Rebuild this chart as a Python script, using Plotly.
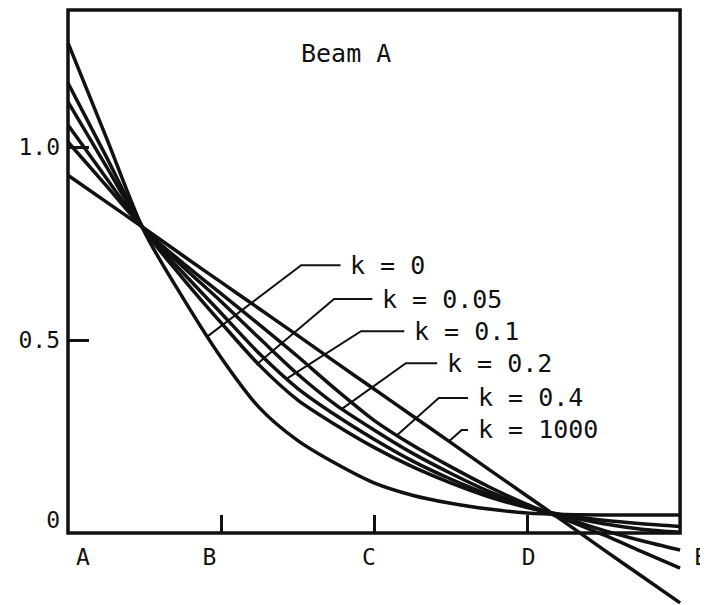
import numpy as np
import plotly.graph_objects as go

# ---------------- data ----------------
x_pos = [0, 0.25, 0.5, 0.75, 1.0, 1.25, 1.5, 1.75, 2.0, 2.25, 2.5, 2.75, 3.0, 3.25, 3.5, 3.75, 4.0]

k_names = ["k = 0", "k = 0.05", "k = 0.1", "k = 0.2", "k = 0.4", "k = 1000"]

y_k0 = [1.27, 1.025, 0.78, 0.61, 0.455, 0.325, 0.24, 0.18, 0.13, 0.098, 0.077, 0.062, 0.052, 0.048, 0.047, 0.047, 0.047]
y_k005 = [1.166, 0.975, 0.785, 0.66, 0.545, 0.435, 0.345, 0.28, 0.222, 0.172, 0.13, 0.094, 0.066, 0.046, 0.033, 0.024, 0.017]
y_k01 = [1.117, 0.95, 0.785, 0.675, 0.57, 0.465, 0.375, 0.305, 0.243, 0.187, 0.14, 0.1, 0.068, 0.044, 0.024, 0.01, 0.002]
y_k02 = [1.057, 0.92, 0.785, 0.69, 0.6, 0.505, 0.412, 0.332, 0.267, 0.207, 0.155, 0.108, 0.07, 0.039, 0.007, -0.02, -0.044]
y_k04 = [1.013, 0.9, 0.786, 0.7, 0.62, 0.54, 0.458, 0.372, 0.292, 0.228, 0.172, 0.12, 0.074, 0.035, -0.005, -0.048, -0.091]
y_k1000 = [0.927, 0.858, 0.789, 0.719, 0.65, 0.581, 0.512, 0.442, 0.373, 0.304, 0.235, 0.165, 0.096, 0.027, -0.043, -0.112, -0.181]

series = [y_k0, y_k005, y_k01, y_k02, y_k04, y_k1000]

# label placement for each curve (data units)
label_x = [1.831, 2.039, 2.248, 2.463, 2.664, 2.664]
label_y = [0.694, 0.606, 0.523, 0.440, 0.350, 0.267]
knee_x = [1.524, 1.739, 1.915, 2.208, 2.423, 2.573]
leader_end_x = [0.912, 1.24, 1.43, 1.79, 2.15, 2.49]

x_tick_vals = [1, 2, 3]
x_label_vals = [0.098, 0.925, 1.967, 3.01, 4.137]
x_label_text = ["A", "B", "C", "D", "E"]

y_tick_vals = [0.5, 1.0]
y_label_vals = [0.034, 0.5, 1.0]
y_label_text = ["0", "0.5", "1.0"]

title_text = "Beam A"
box_top = 1.355

# ---------------- layout geometry ----------------
# the page body has an 8px margin, so the figure is sized to fit the window
W, H = 700, 597
ML, MR, MT, MB = 58, 0, 0, 0
PX_X, PX_Y = 153.5, 386.0
x_lo = -0.013
x_hi = x_lo + (W - ML - MR) / PX_X
y_hi = box_top + 2 / PX_Y
y_lo = y_hi - (H - MT - MB) / PX_Y
axis_pos = (0 - y_lo) / (y_hi - y_lo)

FONT = "DejaVu Sans Mono"
INK = "#111111"

fig = go.Figure()

for name, ys in zip(k_names, series):
    fig.add_trace(go.Scatter(
        x=x_pos, y=ys, mode="lines", name=name,
        line=dict(color=INK, width=3.5, shape="spline", smoothing=0.8),
        hoverinfo="skip", showlegend=False,
    ))

# leader lines from labels to curves
for i, ys in enumerate(series):
    ey = float(np.interp(leader_end_x[i], x_pos, ys))
    fig.add_trace(go.Scatter(
        x=[label_x[i] - 0.05, knee_x[i], leader_end_x[i]],
        y=[label_y[i], label_y[i], ey],
        mode="lines", line=dict(color=INK, width=2),
        hoverinfo="skip", showlegend=False,
    ))
    fig.add_annotation(
        x=label_x[i], y=label_y[i], xref="x", yref="y", text=k_names[i],
        showarrow=False, xanchor="left", yanchor="middle",
        font=dict(family=FONT, size=25, color=INK),
    )

# dummy trace so the overlay axes are drawn
fig.add_trace(go.Scatter(x=[None], y=[None], xaxis="x2", yaxis="y2",
                         showlegend=False, hoverinfo="skip"))

fig.add_annotation(
    x=1.818, y=1.243, xref="x", yref="y", text=title_text, showarrow=False,
    xanchor="center", yanchor="middle",
    font=dict(family=FONT, size=25, color=INK),
)

# frame
fig.add_shape(type="rect", xref="x", yref="y", x0=0, x1=4, y0=0, y1=box_top,
              line=dict(color=INK, width=3.5), layer="above")

fig.update_layout(
    width=W, height=H,
    margin=dict(l=ML, r=MR, t=MT, b=MB),
    paper_bgcolor="white", plot_bgcolor="white",
    showlegend=False,
    xaxis=dict(range=[x_lo, x_hi], tickvals=x_tick_vals, ticks="inside",
               ticklen=18, tickwidth=2.5, tickcolor=INK, showticklabels=False,
               showgrid=False, zeroline=False, showline=False,
               anchor="free", position=axis_pos),
    xaxis2=dict(range=[x_lo, x_hi], overlaying="x", tickvals=x_label_vals,
                ticktext=x_label_text, ticks="", showgrid=False, zeroline=False,
                showline=False, anchor="free", position=axis_pos, side="bottom",
                ticklabelstandoff=8, ticklabeloverflow="allow",
                tickfont=dict(family=FONT, size=23, color=INK)),
    yaxis=dict(range=[y_lo, y_hi], tickvals=y_tick_vals, ticks="inside",
               ticklen=22, tickwidth=2.5, tickcolor=INK, showticklabels=False,
               showgrid=False, zeroline=False, showline=False,
               anchor="free", position=0),
    yaxis2=dict(range=[y_lo, y_hi], overlaying="y", tickvals=y_label_vals,
                ticktext=y_label_text, ticks="", showgrid=False, zeroline=False,
                showline=False, anchor="free", position=0, side="left",
                ticklabelstandoff=6, ticklabeloverflow="allow",
                tickfont=dict(family=FONT, size=23, color=INK)),
)

fig.write_html("out.html")
